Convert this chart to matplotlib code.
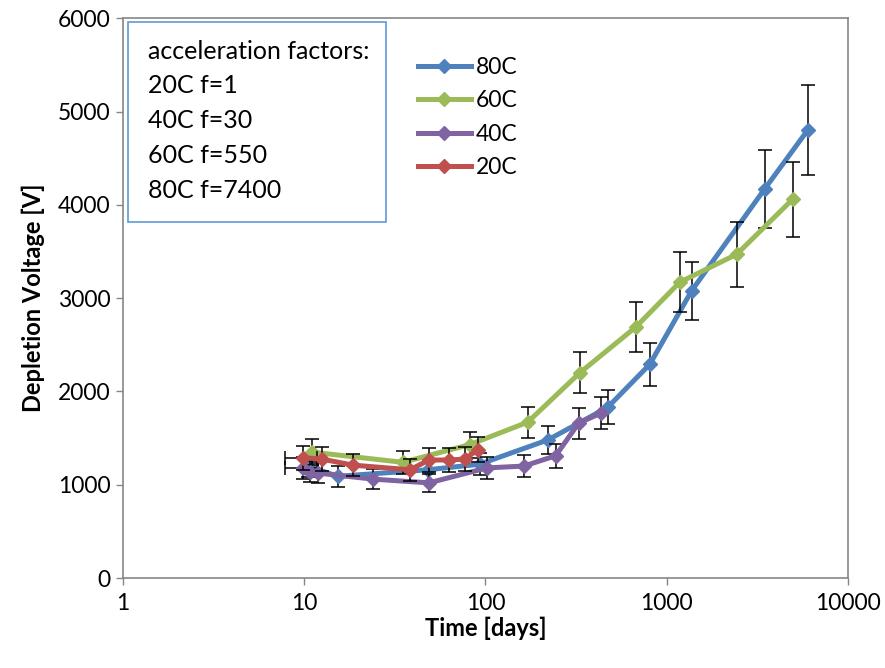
import matplotlib
matplotlib.use("Agg")
import matplotlib.pyplot as plt
from matplotlib.patches import Rectangle

plt.rcParams["font.family"] = ["Lato", "DejaVu Sans"]

# 80C
t80 = [10.5, 15.3, 48, 93, 221, 473, 807, 1375, 3475, 6000]
v80 = [1200, 1090, 1160, 1220, 1480, 1830, 2290, 3080, 4170, 4800]
e80 = [120, 110, 115, 120, 150, 180, 230, 310, 415, 480]

# 60C
t60 = [11.0, 35, 82, 171, 332, 676, 1181, 2437, 4963]
v60 = [1350, 1240, 1430, 1670, 2200, 2690, 3170, 3470, 4060]
e60 = [135, 125, 140, 165, 220, 270, 320, 350, 400]

# 40C
t40 = [9.8, 10.7, 11.9, 23.9, 48.8, 101.7, 163, 244, 327, 437]
v40 = [1180, 1140, 1125, 1060, 1020, 1180, 1200, 1310, 1660, 1770]
e40 = [115, 110, 110, 105, 100, 120, 120, 130, 165, 175]
x40err = [2, 0, 0, 0, 0, 0, 0, 0, 0, 0]

# 20C
t20 = [9.8, 12.5, 18.6, 38.3, 48.8, 62.9, 77, 90.7]
v20 = [1290, 1275, 1210, 1160, 1265, 1265, 1275, 1375]
e20 = [130, 125, 120, 115, 125, 125, 125, 135]
x20err = [2, 0, 0, 0, 0, 0, 0, 0]

series = [
    ("80C", t80, v80, e80, None, "#4F81BD"),
    ("60C", t60, v60, e60, None, "#9BBB59"),
    ("40C", t40, v40, e40, x40err, "#8064A2"),
    ("20C", t20, v20, e20, x20err, "#C0504D"),
]

fig = plt.figure(figsize=(8.85, 6.68), dpi=100)
ax = fig.add_axes([0.139, 0.1347, 0.819, 0.838])

for i, (name, t, v, e, xe, color) in enumerate(series):
    ax.errorbar(t, v, yerr=e, xerr=xe, fmt="none", ecolor="black",
                elinewidth=1.1, capsize=5, capthick=1.1, zorder=2 + i)
    ax.plot(t, v, color=color, lw=3.6, marker="D", markersize=7.5,
            label=name, zorder=3 + i)

ax.set_xscale("log")
ax.set_xlim(1, 10000)
ax.set_ylim(0, 6000)
ax.set_yticks(range(0, 6001, 1000))
ax.set_xticks([1, 10, 100, 1000, 10000])
ax.set_xticklabels(["1", "10", "100", "1000", "10000"])
ax.minorticks_off()
ax.tick_params(labelsize=16.5, length=5, color="#868686", width=1)
ax.tick_params(axis="x", pad=6)
ax.tick_params(axis="y", pad=4)
for sp in ax.spines.values():
    sp.set_color("#868686")
    sp.set_linewidth(1.2)

ax.set_xlabel("Time [days]", fontsize=17, fontweight="bold", labelpad=2)
ax.set_ylabel("Depletion Voltage [V]", fontsize=17, fontweight="bold", labelpad=9)

ax.legend(loc="upper left", bbox_to_anchor=(0.385, 0.96), frameon=False,
          fontsize=16.5, handlelength=2.3, handletextpad=0.2,
          labelspacing=0.55, borderpad=0.2)

ax.add_patch(Rectangle((0.007, 0.636), 0.356, 0.357, transform=ax.transAxes,
                       facecolor="white", edgecolor="#5B9BD5", lw=1.2,
                       zorder=10))
ax.text(0.034, 0.962,
        "acceleration factors:\n20C f=1\n40C f=30\n60C f=550\n80C f=7400",
        transform=ax.transAxes, fontsize=18, va="top", ha="left",
        linespacing=1.62, zorder=11)

fig.savefig("out.png", dpi=100)
